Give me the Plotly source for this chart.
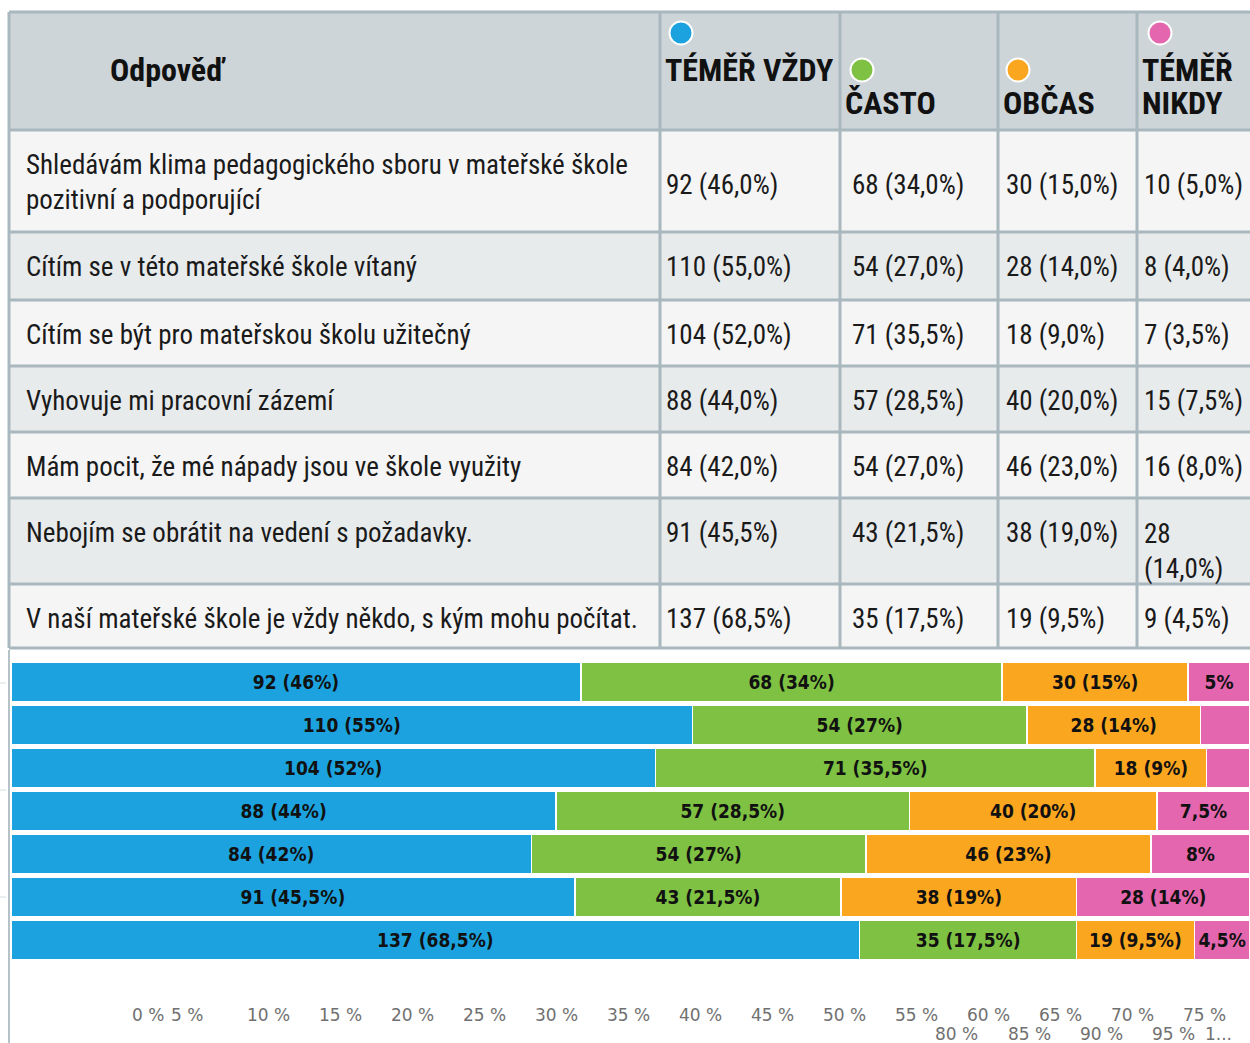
import textwrap
import plotly.graph_objects as go

# ---------------- data ----------------
statements = [
    "Shledávám klima pedagogického sboru v mateřské škole pozitivní a podporující",
    "Cítím se v této mateřské škole vítaný",
    "Cítím se být pro mateřskou školu užitečný",
    "Vyhovuje mi pracovní zázemí",
    "Mám pocit, že mé nápady jsou ve škole využity",
    "Nebojím se obrátit na vedení s požadavky.",
    "V naší mateřské škole je vždy někdo, s kým mohu počítat.",
]
series_names = ["TÉMĚŘ VŽDY", "ČASTO", "OBČAS", "TÉMĚŘ NIKDY"]
temer_vzdy = [92, 110, 104, 88, 84, 91, 137]
casto = [68, 54, 71, 57, 54, 43, 35]
obcas = [30, 28, 18, 40, 46, 38, 19]
temer_nikdy = [10, 8, 7, 15, 16, 28, 9]
respondents = 200
header_label = "Odpověď"
axis_line1 = ["0 %", "5 %", "10 %", "15 %", "20 %", "25 %", "30 %", "35 %",
              "40 %", "45 %", "50 %", "55 %", "60 %", "65 %", "70 %", "75 %"]
axis_line2 = ["80 %", "85 %", "90 %", "95 %", "1..."]

series = [temer_vzdy, casto, obcas, temer_nikdy]
colors = ["#1CA3DF", "#7EC143", "#FBA61F", "#E466AE"]

# ---------------- helpers ----------------
W, H = 1250, 1043


def px(x):
    return x / W


def py(y):
    return 1 - y / H


def pct(v):
    return v / respondents * 100


def fmt_pct(p, force_decimal):
    if force_decimal or abs(p - round(p)) > 1e-9:
        return ("%.1f" % p).replace(".", ",") + "%"
    return "%d%%" % round(p)


TABLE_FONT = "Liberation Sans Narrow, Arial Narrow, Roboto Condensed, sans-serif"

fig = go.Figure()

# ---------------- stacked bar chart ----------------
for k, (name, vals, col) in enumerate(zip(series_names, series, colors)):
    texts = []
    for v in vals:
        p = pct(v)
        if k == 3 and p < 4.5:
            texts.append("")
        elif k == 3 and p < 10:
            texts.append(fmt_pct(p, False))
        else:
            texts.append("%d (%s)" % (v, fmt_pct(p, False)))
    fig.add_trace(go.Bar(
        y=statements, x=[pct(v) for v in vals], orientation="h", name=name,
        marker=dict(color=col, line=dict(color="#FFFFFF", width=1.5)),
        text=texts, textposition="inside", insidetextanchor="middle", textangle=0,
        textfont=dict(family="DejaVu Sans Condensed, DejaVu Sans, sans-serif", size=19,
                      color="#111111", weight="bold"),
        hoverinfo="skip", showlegend=False,
    ))

fig.update_layout(
    barmode="stack", bargap=0.07,
    width=W, height=H, margin=dict(l=0, r=0, t=0, b=0),
    paper_bgcolor="#FFFFFF", plot_bgcolor="#FFFFFF",
    uniformtext=dict(minsize=19, mode="show"),
    xaxis=dict(domain=[px(11), 1], range=[0, 100], showticklabels=False,
               showgrid=False, zeroline=False, fixedrange=True),
    yaxis=dict(domain=[py(961.5), py(660.5)], autorange="reversed",
               showticklabels=False, showgrid=False, zeroline=False, fixedrange=True),
)

shapes = []
annotations = []

# left axis line of the chart
shapes.append(dict(type="line", xref="paper", yref="paper", x0=px(9), x1=px(9),
                   y0=py(650), y1=0, line=dict(color="#B5C2C8", width=2)))
for ty in (683, 790, 897):
    shapes.append(dict(type="line", xref="paper", yref="paper", x0=0, x1=px(6),
                       y0=py(ty), y1=py(ty), line=dict(color="#D3DCE1", width=1)))

# axis labels (flowed in two lines as in the reference)
tick_font = dict(family="DejaVu Sans, Verdana, sans-serif", size=17, color="#707070")
for i, lab in enumerate(axis_line1):
    if i == 0:
        cx = 148
    elif i == 1:
        cx = 187
    else:
        cx = 268 + (i - 2) * 72
    annotations.append(dict(text=lab, x=px(cx), y=py(1015), xref="paper", yref="paper",
                            xanchor="center", yanchor="middle", showarrow=False, font=tick_font))
for i, lab in enumerate(axis_line2):
    cx = 957 + i * 72 if i < 4 else 1218
    annotations.append(dict(text=lab, x=px(cx), y=py(1034), xref="paper", yref="paper",
                            xanchor="center", yanchor="middle", showarrow=False, font=tick_font))

# ---------------- table ----------------
col_edges = [9, 660, 840, 998, 1137, 1252]
row_edges = [12, 130, 232, 300, 366, 432, 498, 584, 648]
text_pad = [15, 4, 10, 6, 5]
wrap_chars = [58, 14, 14, 14, 9]
grid = "#A9B8BE"
header_fill = "#CDD5D9"
row_fills = ["#F5F5F5", "#E8EBEC"]
line_h = 36

shapes.append(dict(type="rect", xref="paper", yref="paper", x0=px(col_edges[0]), x1=px(col_edges[-1]),
                   y0=py(row_edges[1]), y1=py(row_edges[0]), fillcolor=header_fill, line=dict(width=0), layer="below"))
for r in range(len(statements)):
    shapes.append(dict(type="rect", xref="paper", yref="paper", x0=px(col_edges[0]), x1=px(col_edges[-1]),
                       y0=py(row_edges[r + 2]), y1=py(row_edges[r + 1]),
                       fillcolor=row_fills[r % 2], line=dict(width=0), layer="below"))
for ye in row_edges:
    shapes.append(dict(type="line", xref="paper", yref="paper", x0=px(col_edges[0]), x1=px(col_edges[-1]),
                       y0=py(ye), y1=py(ye), line=dict(color=grid, width=3)))
for xe in col_edges:
    shapes.append(dict(type="line", xref="paper", yref="paper", x0=px(xe), x1=px(xe),
                       y0=py(row_edges[-1]), y1=py(row_edges[0]), line=dict(color=grid, width=3)))

# header
head_lines = [33, 70, 103]
head_font = dict(family=TABLE_FONT, size=32, color="#111111")
annotations.append(dict(text="<b>%s</b>" % header_label, x=px(108), y=py(head_lines[1]), xref="paper",
                        yref="paper", xanchor="left", yanchor="middle", showarrow=False, font=head_font))
head_layout = [  # (dot line, first text line)
    (0, 1), (1, 2), (1, 2), (0, 1)
]
dot_dx = [21, 22, 20, 23]
for c, name in enumerate(series_names):
    left = col_edges[c + 1]
    dline, tline = head_layout[c]
    cx, cy = left + dot_dx[c], head_lines[dline]
    shapes.append(dict(type="circle", xref="paper", yref="paper",
                       x0=px(cx - 11.5), x1=px(cx + 11.5), y0=py(cy + 11.5), y1=py(cy - 11.5),
                       fillcolor=colors[c], line=dict(color="#FFFFFF", width=2)))
    words = textwrap.wrap(name, 6) if c == 3 else [name]
    for j, w in enumerate(words):
        annotations.append(dict(text="<b>%s</b>" % w, x=px(left + 3), y=py(head_lines[tline + j]),
                                xref="paper", yref="paper", xanchor="left", yanchor="middle",
                                showarrow=False, font=head_font))

# body
body_font = dict(family=TABLE_FONT, size=27, color="#1A1A1A")
for r, stmt in enumerate(statements):
    top, bot = row_edges[r + 1], row_edges[r + 2]
    cells = [stmt] + ["%d (%s)" % (s[r], fmt_pct(pct(s[r]), True)) for s in series]
    wrapped = [textwrap.wrap(t, wrap_chars[c]) for c, t in enumerate(cells)]
    first_wraps = len(wrapped[0]) > 1
    for c, lines in enumerate(wrapped):
        n = len(lines)
        if n == 1 and first_wraps:
            yc = (top + bot) / 2 + 4
        else:
            yc = top + 35 + (n - 1) * line_h / 2
        annotations.append(dict(text="<br>".join(lines), x=px(col_edges[c] + text_pad[c]), y=py(yc),
                                xref="paper", yref="paper", xanchor="left", yanchor="middle",
                                align="left", showarrow=False, font=body_font))

fig.update_layout(shapes=shapes, annotations=annotations)
fig.write_html(
    "out.html",
    config={"displayModeBar": False},
    post_script="document.body.style.margin='0px';document.body.style.overflow='hidden';",
)
